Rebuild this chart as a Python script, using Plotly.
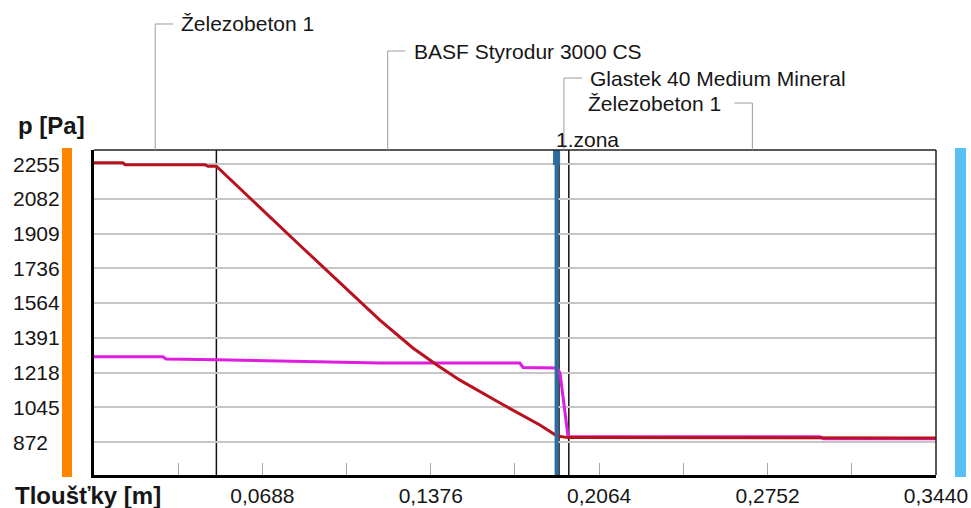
import itertools
import plotly.graph_objects as go

# Wall build-up, from the interior (left) to the exterior (right)
layer_names = ["Železobeton 1", "BASF Styrodur 3000 CS",
               "Glastek 40 Medium Mineral", "Železobeton 1"]
layer_thickness = [0.05, 0.14, 0.004, 0.15]  # m

# Partial water-vapour pressure p [Pa] through the wall
p_x = [0.0, 0.0118, 0.0127, 0.0453, 0.0466, 0.0500, 0.0842, 0.1168, 0.1303,
       0.1401, 0.1495, 0.1659, 0.1822, 0.1892, 0.1937, 0.3440]
p_val = [2261, 2261, 2252, 2252, 2244, 2244, 1850, 1479, 1340,
         1255, 1180, 1066, 957, 902, 894, 892]

# Saturated water-vapour pressure p_sat [Pa]
psat_x = [0.0, 0.0282, 0.0294, 0.0500, 0.1168, 0.1740, 0.1753, 0.1892,
          0.1904, 0.1924, 0.1937, 0.2966, 0.2982, 0.3440]
psat_val = [1296, 1296, 1285, 1282, 1265, 1265, 1243, 1240,
            1215, 1031, 898, 898, 888, 888]

# Condensation zone marker
zone_x = 0.1890
zone_label = "1.zona"

# Axes
x_range = [0.0, 0.34402]
y_range = [708, 2325]
x_tick_vals = [0.0688, 0.1376, 0.2064, 0.2752, 0.3440]
x_tick_text = ["0,0688", "0,1376", "0,2064", "0,2752", "0,3440"]
x_minor_step = 0.0344
y_tick_vals = [872, 1045, 1218, 1391, 1564, 1736, 1909, 2082, 2255]
y_tick_text = ["872", "1045", "1218", "1391", "1564", "1736", "1909", "2082", "2255"]
x_title = "Tloušťky [m]"
y_title = "p [Pa]"

FONT = "Liberation Sans, Arial, sans-serif"
TXT = "#161616"
LEADER = "#9c9c9c"

boundaries = list(itertools.accumulate(layer_thickness))
starts = [0.0] + boundaries[:-1]
centers = [(a + b) / 2 for a, b in zip(starts, boundaries)]

fig = go.Figure()
fig.add_trace(go.Scatter(x=psat_x, y=psat_val, mode="lines",
                         line=dict(color="#E01CE0", width=3),
                         hoverinfo="skip", showlegend=False))
fig.add_trace(go.Scatter(x=p_x, y=p_val, mode="lines",
                         line=dict(color="#B8121F", width=3),
                         hoverinfo="skip", showlegend=False))

shapes = []
# internal layer boundaries
for b in boundaries[:-1]:
    shapes.append(dict(type="line", xref="x", yref="paper", x0=b, x1=b, y0=0, y1=1,
                       line=dict(color="#111111", width=1.5), layer="between"))
# condensation zone line with its head
shapes.append(dict(type="line", xref="x", yref="paper", x0=zone_x, x1=zone_x, y0=0, y1=1,
                   line=dict(color="#2E6CA0", width=4), layer="above"))
shapes.append(dict(type="line", xref="x", yref="paper", ysizemode="pixel", yanchor=1,
                   x0=zone_x, x1=zone_x, y0=0, y1=-15,
                   line=dict(color="#2E6CA0", width=7), layer="above"))
# thin top and right frame
shapes.append(dict(type="line", xref="paper", yref="paper", x0=0, x1=1, y0=1, y1=1,
                   line=dict(color="#222222", width=1.5), layer="above"))
shapes.append(dict(type="line", xref="paper", yref="paper", x0=1, x1=1, y0=0, y1=1,
                   line=dict(color="#222222", width=1.5), layer="above"))
# interior / exterior side bars
shapes.append(dict(type="rect", xref="paper", yref="paper", x0=-0.038, x1=-0.0261,
                   y0=-0.006, y1=1.006, fillcolor="#FF8400", line=dict(width=0)))
shapes.append(dict(type="rect", xref="paper", yref="paper", x0=1.0226, x1=1.0356,
                   y0=-0.006, y1=1.006, fillcolor="#56BFF5", line=dict(width=0)))

annotations = []
# layer labels with elbow leaders
label_rows = [1.3877, 1.3046, 1.2215, 1.1446]
label_side = [1, 1, 1, -1]
for name, cx, ry, side in zip(layer_names, centers, label_rows, label_side):
    shapes.append(dict(type="line", xref="x", yref="paper", x0=cx, x1=cx, y0=1, y1=ry,
                       line=dict(color=LEADER, width=1)))
    shapes.append(dict(type="line", xref="x", yref="paper", xsizemode="pixel", xanchor=cx,
                       x0=0, x1=18 * side, y0=ry, y1=ry,
                       line=dict(color=LEADER, width=1)))
    annotations.append(dict(text=name, xref="x", yref="paper", x=cx, y=ry,
                            xanchor="left" if side > 0 else "right", yanchor="middle",
                            xshift=24 if side > 0 else -29, showarrow=False,
                            font=dict(family=FONT, size=21, color=TXT)))

annotations.append(dict(text=zone_label, xref="x", yref="paper", x=zone_x, y=1.0308,
                        xanchor="left", yanchor="middle", xshift=-3, showarrow=False,
                        font=dict(family=FONT, size=21, color=TXT)))

# y tick labels, left aligned
for v, t in zip(y_tick_vals, y_tick_text):
    annotations.append(dict(text=t, xref="paper", yref="y", x=-0.0986, y=v,
                            xanchor="left", yanchor="middle", showarrow=False,
                            font=dict(family=FONT, size=21, color=TXT)))

annotations.append(dict(text=f"<b>{y_title}</b>", xref="paper", yref="paper",
                        x=-0.0926, y=1.0754, xanchor="left", yanchor="middle",
                        showarrow=False, font=dict(family=FONT, size=24, color=TXT)))
annotations.append(dict(text=f"<b>{x_title}</b>", xref="paper", yref="paper",
                        x=-0.0962, y=-0.0646, xanchor="left", yanchor="middle",
                        showarrow=False, font=dict(family=FONT, size=24, color=TXT)))

fig.update_layout(
    width=971, height=508,
    margin=dict(l=94, r=35, t=150, b=33, pad=0, autoexpand=False),
    paper_bgcolor="white", plot_bgcolor="white",
    shapes=shapes, annotations=annotations,
    xaxis=dict(range=x_range, showgrid=False, zeroline=False, automargin=False,
               showline=True, linecolor="black", linewidth=3,
               ticks="inside", ticklen=12, tickwidth=1, tickcolor="#A8A8A8",
               tickvals=x_tick_vals, ticktext=x_tick_text,
               tickfont=dict(family=FONT, size=21, color=TXT),
               minor=dict(ticks="inside", ticklen=12, tickwidth=1, tickcolor="#A8A8A8",
                          tick0=0, dtick=x_minor_step, showgrid=False)),
    yaxis=dict(range=y_range, showgrid=True, gridcolor="#C6C6C6", gridwidth=1.5,
               zeroline=False, automargin=False,
               showline=True, linecolor="black", linewidth=3,
               tickvals=y_tick_vals, showticklabels=False, ticks=""),
)

fig.write_html("out.html")
